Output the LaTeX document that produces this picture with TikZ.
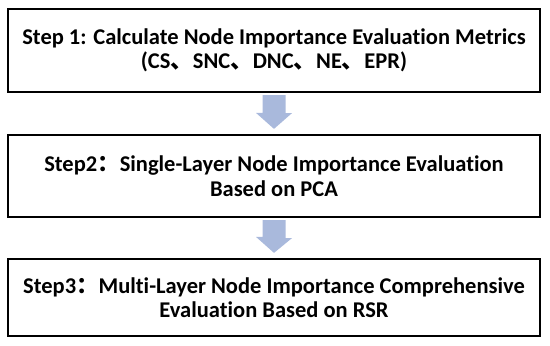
\documentclass[tikz,border=0pt]{standalone}
\usepackage{fontspec}
\setmainfont{Carlito}[Ligatures=NoCommon]
\newfontfamily\cjk{Noto Sans CJK SC}
\usetikzlibrary{calc}
\definecolor{arrowc}{HTML}{A9B9DC}
\begin{document}
\begin{tikzpicture}[x=1pt,y=1pt,
  stepbox/.style={draw=black,line width=2.2pt,minimum width=532pt,inner sep=0pt,
    align=center,font=\fontsize{22.5}{24.5}\selectfont\bfseries},
  flowarrow/.style={fill=arrowc,draw=none}]
\useasboundingbox (0,0) rectangle (550,-346);
\node[stepbox,minimum height=83pt] (b1) at (274,-50.5)
  {Step 1: Calculate Node Importance Evaluation Metrics\\(CS{\cjk 、}SNC{\cjk 、}DNC{\cjk 、}NE{\cjk 、}EPR)};
\node[stepbox,minimum height=82pt] (b2) at (274,-176)
  {Step2{\cjk ：}Single-Layer Node Importance Evaluation\\Based on PCA};
\node[stepbox,minimum height=77pt] (b3) at (274,-297.5)
  {Step3{\cjk ：}Multi-Layer Node Importance Comprehensive\\Evaluation Based on RSR};
\fill[flowarrow] ($(b1.south)+(-11.5,-2)$) -- ++(23,0) -- ++(0,-18) -- ++(6.5,0)
  -- ($(b2.north)+(0,5)$) -- ++(-18,16) -- ++(6.5,0) -- cycle;
\fill[flowarrow] ($(b2.south)+(-11.5,-2)$) -- ++(23,0) -- ++(0,-18) -- ++(6.5,0)
  -- ($(b3.north)+(0,5)$) -- ++(-18,16) -- ++(6.5,0) -- cycle;
\end{tikzpicture}
\end{document}
